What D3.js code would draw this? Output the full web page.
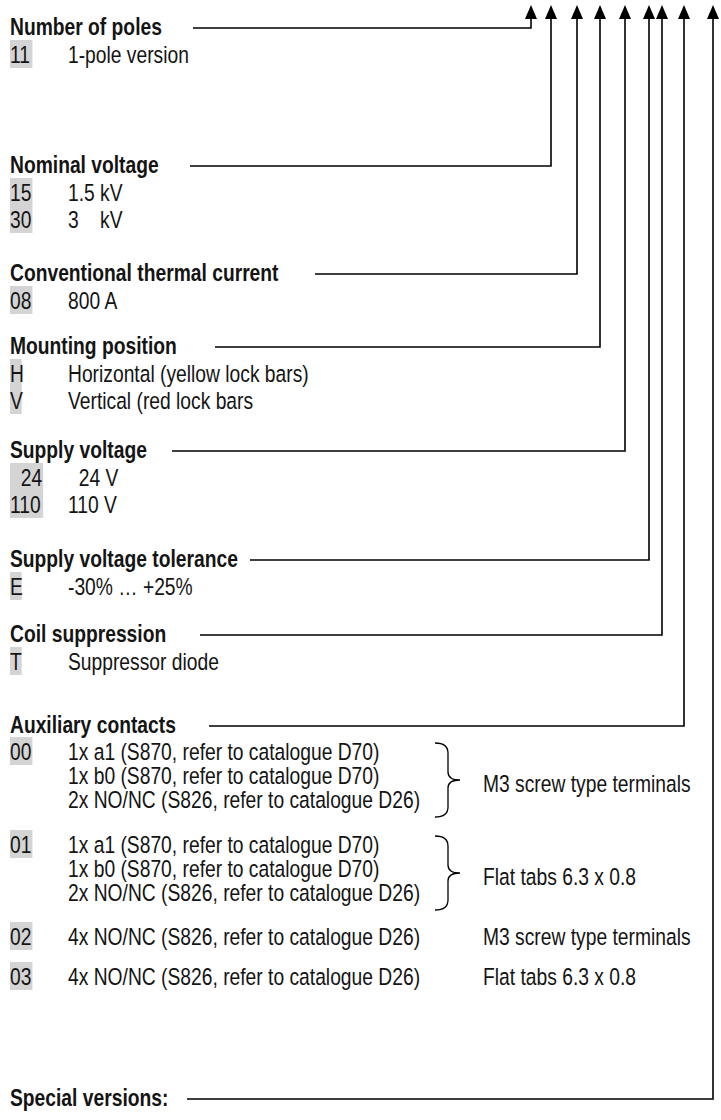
<!DOCTYPE html>
<html>
<head>
<meta charset="utf-8">
<script src="https://cdn.jsdelivr.net/npm/d3@7"></script>
<style>
  body { margin: 0; background: #fff; }
  text { white-space: pre; }
</style>
</head>
<body>
<script>
// type designation key

const sectionTitles = ["Number of poles", "Nominal voltage", "Conventional thermal current",
  "Mounting position", "Supply voltage", "Supply voltage tolerance", "Coil suppression",
  "Auxiliary contacts", "Special versions:"];
const sectionCodes = [["11"], ["15", "30"], ["08"], ["H", "V"], ["\u200724", "110"], ["E"], ["T"], [], []];
const sectionTexts = [["1-pole version"], ["1.5 kV", "3    kV"], ["800 A"],
  ["Horizontal (yellow lock bars)", "Vertical (red lock bars"], ["\u200724 V", "110 V"],
  ["-30% \u2026 +25%"], ["Suppressor diode"], [], []];

const auxCodes = ["00", "01", "02", "03"];
const auxContacts = [
  ["1x a1 (S870, refer to catalogue D70)", "1x b0 (S870, refer to catalogue D70)", "2x NO/NC (S826, refer to catalogue D26)"],
  ["1x a1 (S870, refer to catalogue D70)", "1x b0 (S870, refer to catalogue D70)", "2x NO/NC (S826, refer to catalogue D26)"],
  ["4x NO/NC (S826, refer to catalogue D26)"],
  ["4x NO/NC (S826, refer to catalogue D26)"]];
const auxTerminals = ["M3 screw type terminals", "Flat tabs 6.3 x 0.8", "M3 screw type terminals", "Flat tabs 6.3 x 0.8"];

// position of each arrow in the type code (relative units)
const arrowSlot = [0, 20, 46, 69, 94, 118, 131, 153, 182];

// layout
const frame = { width: 721, height: 1120 };
const headerY = [35, 173, 281, 354, 458, 567, 642, 733, 1106];
const lineStart = [193, 190, 315, 215, 172, 250, 200, 209, 187];
const auxY = [760, 853, 945, 985];
const fs = 23.5, rowH = 27, auxRowH = 24;
const codeX = 10, descX = 68, termX = 483, braceX = 435;

function hasFont(name) {
  let c = document.createElement('canvas').getContext('2d');
  let s = 'Number of poles 0123';
  c.font = '20px monospace';
  let a = c.measureText(s).width;
  c.font = `20px '${name}', monospace`;
  return c.measureText(s).width !== a;
}
const narrow = hasFont('Liberation Sans Narrow');
const family = narrow ? "'Liberation Sans Narrow', 'Arial Narrow'" : "'Liberation Sans', Arial";
const squeeze = narrow ? 1 : 0.82;

let svg = d3.select('body')
  .append('svg')
  .attr('width', frame.width)
  .attr('height', frame.height)
  .style('font-family', family)
  .style('font-size', fs + 'px');

svg.append('rect').attr('width', frame.width).attr('height', frame.height).attr('fill', '#fff');

let xArrow = d3.scaleLinear()
  .domain([0, d3.max(arrowSlot)])
  .range([531, 713]);

function addText(g, x, y, s, bold) {
  return g.append('text')
    .attr('transform', `translate(${x},${y}) scale(${squeeze},1)`)
    .attr('font-weight', bold ? 'bold' : 'normal')
    .attr('fill', '#141414')
    .text(s);
}

let shade = svg.append('g');
let lines = svg.append('g').attr('fill', 'none').attr('stroke', '#000').attr('stroke-width', 1.6);
let labels = svg.append('g');

// code shading width
let cw = s => s.length * fs * 0.556 * squeeze * (narrow ? 0.82 : 1) + 1;

sectionTitles.forEach((title, i) => {
  let y = headerY[i];
  addText(labels, codeX, y, title, true);
  let ly = y - 7;
  let ax = xArrow(arrowSlot[i]);
  lines.append('path').attr('d', `M${lineStart[i]},${ly}H${ax}V18`);
  svg.append('path')
    .attr('d', `M${ax},5L${ax + 6},19L${ax - 6},19Z`)
    .attr('fill', '#000');

  let codes = sectionCodes[i];
  codes.forEach((c, j) => {
    let ry = y + 28 + j * rowH;
    shade.append('rect')
      .attr('x', codeX).attr('y', ry - 23)
      .attr('width', cw(c)).attr('height', rowH + 1)
      .attr('fill', '#d4d4d4');
    addText(labels, codeX, ry, c, false);
    addText(labels, descX, ry, sectionTexts[i][j], false);
  });
});

// auxiliary contacts
auxCodes.forEach((c, k) => {
  let y0 = auxY[k];
  shade.append('rect')
    .attr('x', codeX).attr('y', y0 - 23)
    .attr('width', cw(c)).attr('height', rowH + 1)
    .attr('fill', '#d4d4d4');
  addText(labels, codeX, y0, c, false);
  let rows = auxContacts[k];
  rows.forEach((r, j) => addText(labels, descX, y0 + j * auxRowH, r, false));
  let mid = y0 + (rows.length - 1) * auxRowH / 2;
  if (rows.length > 1) {
    let top = y0 - 17, bot = y0 + (rows.length - 1) * auxRowH + 9;
    let cy = (top + bot) / 2;
    let p = d3.path();
    p.moveTo(braceX, top);
    p.quadraticCurveTo(braceX + 13, top, braceX + 13, top + 10);
    p.lineTo(braceX + 13, cy - 8);
    p.quadraticCurveTo(braceX + 13, cy, braceX + 25, cy);
    p.quadraticCurveTo(braceX + 13, cy, braceX + 13, cy + 8);
    p.lineTo(braceX + 13, bot - 10);
    p.quadraticCurveTo(braceX + 13, bot, braceX, bot);
    lines.append('path').attr('d', p.toString()).attr('stroke-width', 1.3);
    addText(labels, termX, mid + 8, auxTerminals[k], false);
  } else {
    addText(labels, termX, y0, auxTerminals[k], false);
  }
});
</script>
</body>
</html>
